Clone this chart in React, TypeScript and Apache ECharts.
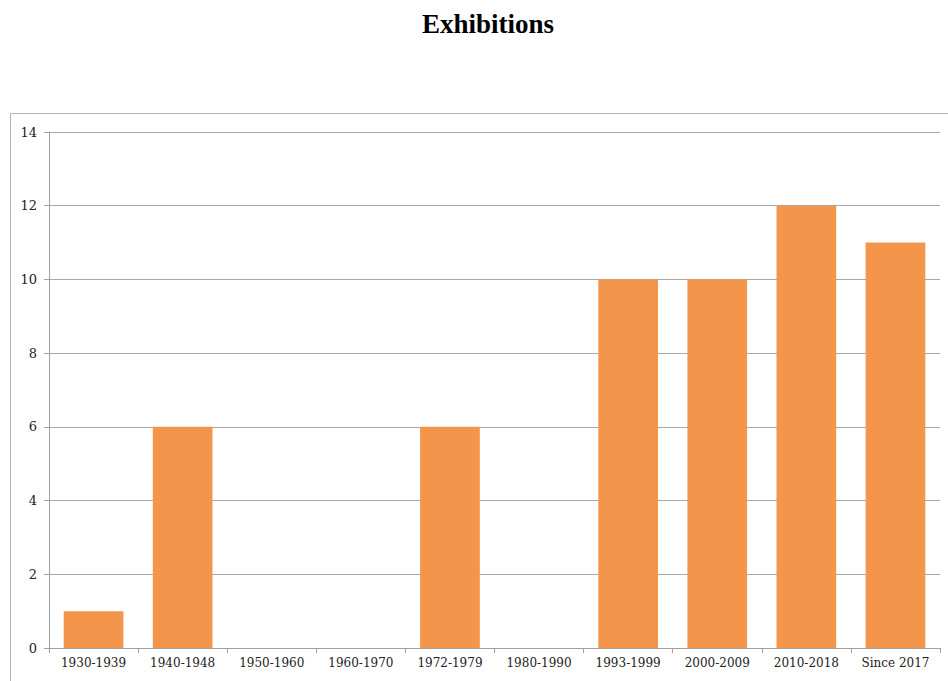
import React, { useEffect, useRef } from "react";
import * as echarts from "echarts";

const categories = [
  "1930-1939",
  "1940-1948",
  "1950-1960",
  "1960-1970",
  "1972-1979",
  "1980-1990",
  "1993-1999",
  "2000-2009",
  "2010-2018",
  "Since 2017",
];
const exhibitions = [1, 6, 0, 0, 6, 0, 10, 10, 12, 11];
const yTicks = { min: 0, max: 14, interval: 2 };

export default function App() {
  const ref = useRef<HTMLDivElement>(null);
  useEffect(() => {
    if (!ref.current) return;
    const chart = echarts.init(ref.current, null, { renderer: "svg" });
    chart.setOption({
      animation: false,
      backgroundColor: "#ffffff",
      title: {
        text: "Exhibitions",
        left: 483,
        top: 5,
        textAlign: "center",
        textStyle: {
          fontFamily: "Liberation Serif",
          fontWeight: "bold",
          fontSize: 27,
          color: "#000000",
        },
      },
      graphic: [
        {
          type: "rect",
          shape: { x: 10.5, y: 113.5, width: 960, height: 600 },
          style: { fill: "none", stroke: "#b4b4b4", lineWidth: 1 },
          silent: true,
          z: -1,
        },
      ],
      grid: { left: 49, right: 8, top: 132, bottom: 33, containLabel: false },
      xAxis: {
        type: "category",
        data: categories,
        boundaryGap: true,
        axisLine: { show: true, lineStyle: { color: "#a0a0a0", width: 1 } },
        axisTick: { show: true, alignWithLabel: false, length: 5, lineStyle: { color: "#a0a0a0" } },
        axisLabel: {
          margin: 9,
          fontFamily: "DejaVu Serif",
          fontSize: 12,
          color: "#222222",
          interval: 0,
        },
        splitLine: { show: false },
      },
      yAxis: {
        type: "value",
        min: yTicks.min,
        max: yTicks.max,
        interval: yTicks.interval,
        axisLine: { show: true, lineStyle: { color: "#a0a0a0", width: 1 } },
        axisTick: { show: true, length: 5, lineStyle: { color: "#a0a0a0" } },
        axisLabel: {
          margin: 12,
          fontFamily: "DejaVu Serif",
          fontSize: 13,
          color: "#222222",
        },
        splitLine: { show: true, lineStyle: { color: "#a8a8a8", width: 1 } },
      },
      series: [
        {
          type: "bar",
          data: exhibitions,
          barCategoryGap: "33%",
          itemStyle: { color: "#f3954b" },
        },
      ],
    });
    return () => chart.dispose();
  }, []);
  return (
    <div
      ref={ref}
      style={{ position: "fixed", left: 0, top: 0, width: 948, height: 681 }}
    />
  );
}
